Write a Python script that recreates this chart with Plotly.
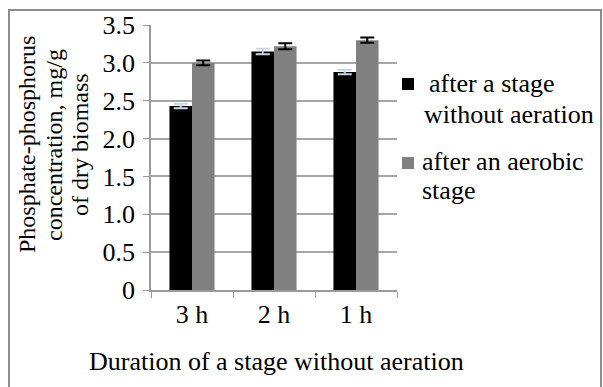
import plotly.graph_objects as go

categories = ["3 h", "2 h", "1 h"]
anoxic = [2.43, 3.15, 2.88]
anoxic_err = [0.03, 0.035, 0.03]
aerobic = [3.00, 3.22, 3.30]
aerobic_err = [0.03, 0.04, 0.035]
y_ticks = [0, 0.5, 1.0, 1.5, 2.0, 2.5, 3.0, 3.5]
y_ticktext = ["0", "0.5", "1.0", "1.5", "2.0", "2.5", "3.0", "3.5"]
legend_lines_anoxic = ["after a stage", "without aeration"]
legend_lines_aerobic = ["after an aerobic", "stage"]
y_title_lines = ["Phosphate-phosphorus", "concentration, mg/g", "of dry biomass"]
x_title = "Duration of a stage without aeration"

FONT = "Liberation Serif"
W, H = 603, 387
L, R, T, B = 151, 206, 25, 97
pw, ph = W - L - R, H - T - B


def px_x(x):
    return (x - L) / pw


def px_y(y):
    return (H - B - y) / ph


fig = go.Figure()
fig.add_trace(go.Bar(
    x=categories, y=anoxic, name=" ".join(legend_lines_anoxic),
    marker=dict(color="#000000", line=dict(width=0)),
    error_y=dict(type="data", array=anoxic_err, visible=True, color="#c9d6e8", thickness=2, width=7),
    showlegend=False,
))
fig.add_trace(go.Bar(
    x=categories, y=aerobic, name=" ".join(legend_lines_aerobic),
    marker=dict(color="#808080", line=dict(width=0)),
    error_y=dict(type="data", array=aerobic_err, visible=True, color="#000000", thickness=2, width=7),
    showlegend=False,
))

# outer frame
fig.add_shape(type="rect", xref="paper", yref="paper",
              x0=px_x(9), x1=px_x(601), y0=px_y(392), y1=px_y(10),
              line=dict(color="#8c8c8c", width=2), fillcolor="rgba(0,0,0,0)", layer="below")

annotations = []
# custom legend (tight line spacing as in reference)
legend_specs = [
    ("#000000", legend_lines_anoxic, 78, [427, 422], [84, 114]),
    ("#808080", legend_lines_aerobic, 157, [420, 420], [161, 190]),
]
for color, lines, sq_top, xs, ys in legend_specs:
    fig.add_shape(type="rect", xref="paper", yref="paper",
                  x0=px_x(402), x1=px_x(414), y0=px_y(sq_top + 12), y1=px_y(sq_top),
                  line=dict(width=0), fillcolor=color)
    for text, xx, yy in zip(lines, xs, ys):
        annotations.append(dict(text=text, xref="paper", yref="paper",
                                x=px_x(xx), y=px_y(yy), xanchor="left", yanchor="middle",
                                showarrow=False, font=dict(family=FONT, size=26, color="#000000")))

# y-axis title, three tightly spaced lines
for text, xx in zip(y_title_lines, [27, 54, 80]):
    annotations.append(dict(text=text, xref="paper", yref="paper",
                            x=px_x(xx), y=px_y(145), xanchor="center", yanchor="middle",
                            textangle=-90, showarrow=False,
                            font=dict(family=FONT, size=24, color="#000000")))

# x-axis title
annotations.append(dict(text=x_title, xref="paper", yref="paper",
                        x=px_x(276), y=px_y(361), xanchor="center", yanchor="middle",
                        showarrow=False, font=dict(family=FONT, size=26, color="#000000")))

fig.update_layout(
    width=W, height=H,
    margin=dict(l=L, r=R, t=T, b=B, pad=0),
    paper_bgcolor="white", plot_bgcolor="white",
    font=dict(family=FONT, size=26, color="#000000"),
    barmode="group", bargap=0.45, bargroupgap=0,
    showlegend=False,
    annotations=annotations,
    xaxis=dict(
        type="category", tickson="boundaries", ticks="outside", ticklen=6,
        tickcolor="#9a9a9a", showline=True, linecolor="#9a9a9a", linewidth=1.5,
        showgrid=False, tickfont=dict(family=FONT, size=26),
    ),
    yaxis=dict(
        range=[0, 3.5], tickvals=y_ticks, ticktext=y_ticktext,
        ticks="outside", ticklen=6, tickcolor="#9a9a9a",
        showline=True, linecolor="#9a9a9a", linewidth=1.5,
        showgrid=True, gridcolor="#a6a6a6", gridwidth=1.5, zeroline=False,
        tickfont=dict(family=FONT, size=26), ticklabelstandoff=3,
    ),
)

fig.write_html("out.html")
